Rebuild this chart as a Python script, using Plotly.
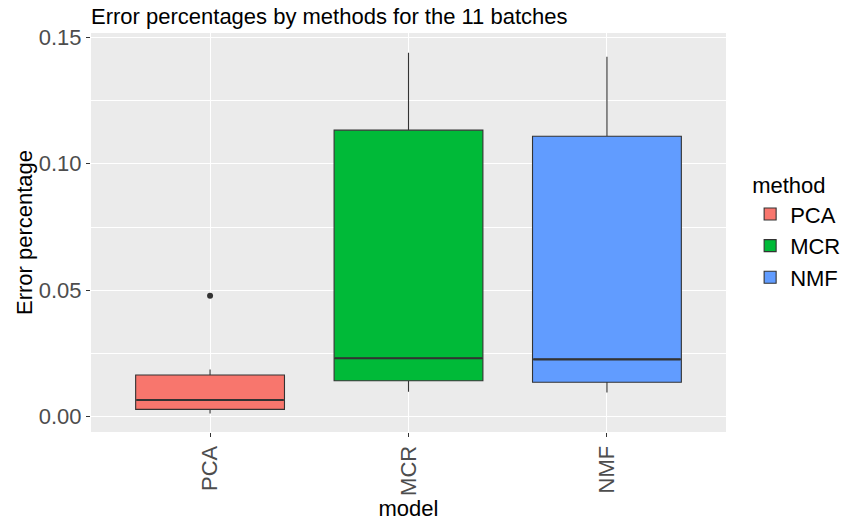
import plotly.graph_objects as go

methods = ["PCA", "MCR", "NMF"]
colors = ["#F8766D", "#00BA38", "#619CFF"]
q1 = [0.0029, 0.0142, 0.0136]
median = [0.0066, 0.0231, 0.0227]
q3 = [0.0165, 0.1133, 0.1109]
lowerfence = [0.0013, 0.0099, 0.0096]
upperfence = [0.0187, 0.1439, 0.1423]
outlier_method = ["PCA"]
outlier_y = [0.0478]

box_width = 0.75
pos = list(range(len(methods)))

fig = go.Figure()
for i, m in enumerate(methods):
    fig.add_trace(go.Box(
        x=[pos[i]], q1=[q1[i]], median=[median[i]], q3=[q3[i]],
        lowerfence=[lowerfence[i]], upperfence=[upperfence[i]],
        name=m, fillcolor=colors[i], line=dict(color="#333333", width=1.1),
        whiskerwidth=0, width=box_width, boxpoints=False,
    ))
# thicker median lines (ggplot style)
for i, m in enumerate(methods):
    fig.add_trace(go.Scatter(
        x=[pos[i] - box_width / 2 + 0.004, pos[i] + box_width / 2 - 0.004],
        y=[median[i], median[i]], mode="lines",
        line=dict(color="#333333", width=2.2),
        showlegend=False, hoverinfo="skip"))
fig.add_trace(go.Scatter(
    x=[methods.index(m) for m in outlier_method], y=outlier_y, mode="markers",
    marker=dict(color="#333333", size=6), showlegend=False, hoverinfo="y"))

font = "Liberation Sans, Arial, sans-serif"
fig.update_layout(
    width=848, height=522,
    margin=dict(l=91, r=122, t=33, b=90, autoexpand=False),
    paper_bgcolor="white", plot_bgcolor="#EBEBEB",
    font=dict(family=font, color="black"),
    title=dict(text="Error percentages by methods for the 11 batches",
               x=91/848, xanchor="left", y=1-16/522, yanchor="middle",
               font=dict(size=22, color="black")),
    boxmode="overlay",
    legend=dict(title=dict(text="method", font=dict(size=22)),
                font=dict(size=22), x=1.038, xanchor="left",
                y=0.67, yanchor="top", bgcolor="rgba(0,0,0,0)",
                tracegroupgap=0),
    showlegend=True,
)
fig.update_xaxes(
    tickvals=pos, ticktext=methods, automargin=False,
    range=[-0.6, 2.6], showgrid=True, gridcolor="white", gridwidth=1.1,
    zeroline=False, ticks="outside", ticklen=4, tickcolor="#333333",
    tickangle=-90, tickfont=dict(size=22, color="#4D4D4D"),
    title=dict(text="model", font=dict(size=22), standoff=2),
)
fig.update_yaxes(
    range=[-0.00605, 0.1517], tickvals=[0, 0.05, 0.10, 0.15],
    ticktext=["0.00", "0.05", "0.10", "0.15"], automargin=False,
    showgrid=True, gridcolor="white", gridwidth=1.1, zeroline=False,
    ticks="outside", ticklen=4, tickcolor="#333333",
    tickfont=dict(size=22, color="#4D4D4D"),
    minor=dict(tickvals=[0.025, 0.075, 0.125], showgrid=True,
               gridcolor="white", gridwidth=0.5, ticks=""),
    title=dict(text="Error percentage", font=dict(size=22), standoff=0),
)
fig.write_html("out.html")
